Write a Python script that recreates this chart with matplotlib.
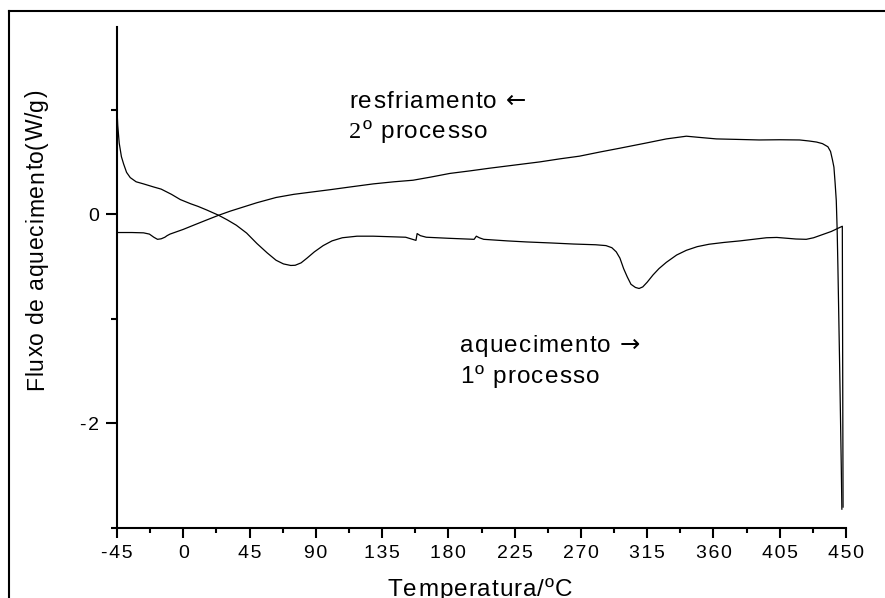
import matplotlib
matplotlib.use('Agg')
import matplotlib.pyplot as plt
from matplotlib.font_manager import FontProperties
from matplotlib.lines import Line2D
from matplotlib.ticker import MultipleLocator, FuncFormatter

W, H = 885, 598
SANS = ['Liberation Sans', 'DejaVu Sans']
SERIF = ['Liberation Serif', 'DejaVu Serif']
ARROW = ['DejaVu Sans']

plt.rcParams['font.family'] = SANS
plt.rcParams['axes.unicode_minus'] = False

# 1st run: heating (-45 -> 450 C), then the switch-over spike at 450
heat_T = [-45, -44.5, -43.5, -42, -40.5, -38.5, -36, -32, -27, -20, -15, -8, -2, 5, 10, 16,
          24, 30, 36, 43, 50, 57, 63, 68, 73, 76, 80, 84, 89, 95, 101, 108, 118, 129, 140,
          151, 158, 158.8, 161, 165, 180, 197.5, 199, 201, 204, 220, 233, 250, 265, 280,
          287, 291, 294, 296.5, 299, 301.5, 304, 307, 309.5, 312, 315, 319, 323, 328, 335,
          341.6, 349, 357, 367, 378, 387, 396, 403, 410, 416, 423, 428, 433, 440, 447.5, 448]
heat_v = [1.00, 0.85, 0.68, 0.55, 0.48, 0.40, 0.35, 0.31, 0.29, 0.26, 0.24, 0.19, 0.14, 0.10,
          0.075, 0.04, -0.01, -0.055, -0.105, -0.18, -0.28, -0.37, -0.44, -0.475, -0.49,
          -0.488, -0.465, -0.42, -0.36, -0.30, -0.255, -0.225, -0.21, -0.21, -0.215, -0.22,
          -0.25, -0.185, -0.205, -0.22, -0.23, -0.24, -0.21, -0.225, -0.24, -0.255, -0.265,
          -0.275, -0.285, -0.292, -0.30, -0.32, -0.36, -0.42, -0.52, -0.60, -0.67, -0.70,
          -0.71, -0.695, -0.65, -0.58, -0.52, -0.46, -0.39, -0.345, -0.31, -0.287, -0.27,
          -0.255, -0.24, -0.225, -0.222, -0.23, -0.237, -0.24, -0.225, -0.20, -0.165,
          -0.115, -2.80]

# 2nd run: cooling (450 -> -45 C), stored in increasing temperature
cool_T = [-45, -35, -27, -23, -20, -17.5, -15, -12.5, -11, -9, 0, 7, 15, 24, 32, 41, 50, 63,
          75, 86, 100, 113, 129, 143, 156, 168, 181, 195, 208, 225, 242, 256, 269, 283, 296,
          305, 314, 328, 341.6, 350, 362, 377, 391, 405, 418.5, 425, 430, 434, 437.7, 439.5,
          440.8, 441.8, 442.6, 443.4, 444.0, 444.5, 445.7, 446.8, 447.2]
cool_v = [-0.175, -0.175, -0.178, -0.19, -0.22, -0.24, -0.235, -0.22, -0.205, -0.19, -0.145,
          -0.105, -0.06, -0.01, 0.03, 0.07, 0.11, 0.16, 0.19, 0.21, 0.235, 0.26, 0.29, 0.31,
          0.325, 0.355, 0.39, 0.415, 0.44, 0.47, 0.50, 0.53, 0.555, 0.595, 0.63, 0.655, 0.68,
          0.72, 0.746, 0.735, 0.72, 0.715, 0.71, 0.712, 0.71, 0.70, 0.69, 0.675, 0.645, 0.60,
          0.52, 0.45, 0.30, 0.13, -0.15, -0.50, -1.46, -2.42, -2.82]

fig = plt.figure(figsize=(W / 100, H / 100), dpi=100)
ax = fig.add_axes([117 / W, 1 - 528 / H, (846 - 117) / W, (528 - 27) / H])

ax.plot(heat_T, heat_v, color='black', lw=0.9)
ax.plot(cool_T, cool_v, color='black', lw=0.9)

ax.set_xlim(-45, 450)
ax.set_ylim(-3, 1.79)
for s in ['top', 'right']:
    ax.spines[s].set_visible(False)
for s in ['left', 'bottom']:
    ax.spines[s].set_linewidth(1.5)

# tick labels with a hair space between the digits
spaced = FuncFormatter(lambda v, pos: '\u200a'.join('%d' % round(v)))

ax.xaxis.set_major_locator(MultipleLocator(45))
ax.xaxis.set_minor_locator(MultipleLocator(22.5))
ax.yaxis.set_major_locator(MultipleLocator(2))
ax.yaxis.set_minor_locator(MultipleLocator(1))
ax.xaxis.set_major_formatter(spaced)
ax.yaxis.set_major_formatter(spaced)
ax.tick_params(axis='x', which='major', direction='out', length=7, width=1.5, pad=5, labelsize=14)
ax.tick_params(axis='x', which='minor', direction='out', length=3.6, width=1.5)
ax.tick_params(axis='y', which='major', direction='out', length=8, width=1.5, pad=5, labelsize=14)
ax.tick_params(axis='y', which='minor', direction='out', length=4, width=1.5)

# outer frame (only top and left edges fall inside the canvas)
fig.add_artist(Line2D([9 / W, 1], [1 - 11 / H] * 2, transform=fig.transFigure,
                      color='black', lw=1.5, solid_capstyle='projecting'))
fig.add_artist(Line2D([9 / W] * 2, [0, 1 - 11 / H], transform=fig.transFigure,
                      color='black', lw=1.5, solid_capstyle='projecting'))

renderer = fig.canvas.get_renderer()


def advance(ch, prop):
    w = lambda t: renderer.get_text_width_height_descent(t, prop, ismath=False)[0]
    return w('H' + ch + 'H') - w('HH')


def tracked(x, y, parts, size, track, angle=0, ha='left'):
    """Letter-spaced text; x, y in pixels from the top-left, y is the baseline."""
    if isinstance(parts, str):
        parts = [(parts, SANS)]
    chars = []
    for txt, fam in parts:
        prop = FontProperties(family=fam, size=size)
        chars += [(ch, prop, advance(ch, prop)) for ch in txt]
    total = sum(c[2] for c in chars) + track * (len(chars) - 1)
    off = -total / 2 if ha == 'center' else 0
    for ch, prop, adv in chars:
        if angle == 90:
            px, py = x, y - off
        else:
            px, py = x + off, y
        fig.text(px / W, 1 - py / H, ch, fontproperties=prop, rotation=angle,
                 rotation_mode='anchor', ha='left', va='baseline')
        off += adv + track


tracked(349, 108, [('resfriamento ', SANS), ('\u2190', ARROW)], 17.5, 1.2)
tracked(349, 138, [('2', SERIF), ('º processo', SANS)], 17.5, 1.2)
tracked(460, 352, [('aquecimento ', SANS), ('\u2192', ARROW)], 17.5, 1.2)
tracked(460, 383, '1º processo', 17.5, 1.2)

tracked(480, 596, 'Temperatura/ºC', 17.5, 1.0, ha='center')
tracked(43, 240, 'Fluxo de aquecimento(W/g)', 16.5, 0.8, angle=90, ha='center')

fig.savefig('out.png', dpi=100)
